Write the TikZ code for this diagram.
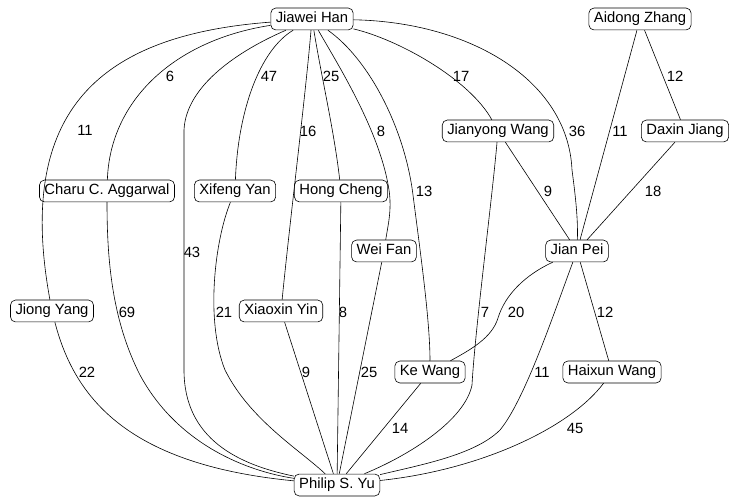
\documentclass[tikz,border=0pt]{standalone}
\usepackage{fontspec}
\setmainfont{Liberation Sans}
\usepackage{tikz}

\begin{document}
\begin{tikzpicture}[x=1pt, y=-1pt, line width=0.6pt,
    every node/.style={font=\fontsize{14.8}{17}\selectfont},
    author/.style={draw, rounded corners=5pt, inner xsep=5pt, inner ysep=4pt,
                   text height=10.8pt, text depth=3.1pt},
    wt/.style={inner sep=0pt}]
    \useasboundingbox (0,0) rectangle (729,497);

    \node[author] (han) at (312,19) {Jiawei Han};
    \node[author] (aidong) at (640,19) {Aidong Zhang};
    \node[author] (jianyong) at (498,131) {Jianyong Wang};
    \node[author] (daxin) at (685,131) {Daxin Jiang};
    \node[author] (charu) at (107,191) {Charu C. Aggarwal};
    \node[author] (xifeng) at (235,191) {Xifeng Yan};
    \node[author] (hong) at (341,191) {Hong Cheng};
    \node[author] (weifan) at (384,251) {Wei Fan};
    \node[author] (jianpei) at (577,251) {Jian Pei};
    \node[author] (jiong) at (52,311) {Jiong Yang};
    \node[author] (xiaoxin) at (281,311) {Xiaoxin Yin};
    \node[author] (kewang) at (430,372) {Ke Wang};
    \node[author] (haixun) at (612,372) {Haixun Wang};
    \node[author] (yu) at (337,485) {Philip S. Yu};

    \draw (han) .. controls (100,35) and (15,110) .. (jiong);
    \draw (han) .. controls (175,40) and (110,100) .. (charu);
    \draw (han) .. controls (240,50) and (186,85) .. (184,130) -- (184,370)
        .. controls (184,440) and (240,465) .. (yu);
    \draw (han) .. controls (260,50) and (238,110) .. (xifeng);
    \draw (han) .. controls (305,100) and (290,220) .. (xiaoxin);
    \draw (han) .. controls (322,80) and (334,130) .. (hong);
    \draw (han) .. controls (335,60) and (380,130) .. (389,190)
        .. controls (392,210) and (388,225) .. (weifan);
    \draw (han) .. controls (370,60) and (405,130) .. (413,195)
        .. controls (420,250) and (430,320) .. (kewang);
    \draw (han) .. controls (400,40) and (470,80) .. (jianyong);
    \draw (han) .. controls (470,22) and (568,80) .. (572,170)
        .. controls (576,200) and (578,220) .. (jianpei);

    \draw (aidong) -- (jianpei);
    \draw (aidong) -- (daxin);
    \draw (jianyong) -- (jianpei);
    \draw (daxin) -- (jianpei);
    \draw (jianpei) -- (haixun);
    \draw (jianyong) .. controls (492,200) and (475,330) .. (472,385)
        .. controls (465,420) and (410,455) .. (yu);
    \draw (jianpei) .. controls (525,275) and (505,295) .. (498,318)
        .. controls (492,338) and (470,350) .. (kewang);
    \draw (jianpei) .. controls (555,310) and (525,400) .. (500,430)
        .. controls (475,455) and (420,465) .. (yu);
    \draw (haixun) .. controls (570,428) and (480,470) .. (yu);

    \draw (kewang) -- (yu);
    \draw (weifan) -- (yu);
    \draw (hong) -- (yu);
    \draw (xiaoxin) -- (yu);
    \draw (xifeng) .. controls (215,240) and (205,320) .. (225,370)
        .. controls (250,420) and (300,450) .. (yu);
    \draw (charu) .. controls (107,260) and (112,320) .. (140,375)
        .. controls (175,440) and (240,470) .. (yu);
    \draw (jiong) .. controls (75,400) and (130,465) .. (yu);

    \node[wt] (w1) at (85,130) {11};
    \node[wt] (w2) at (170,76) {6};
    \node[wt] (w3) at (269,76) {47};
    \node[wt] (w4) at (331,76) {25};
    \node[wt] (w5) at (308,131) {16};
    \node[wt] (w6) at (381,131) {8};
    \node[wt] (w7) at (461,76) {17};
    \node[wt] (w8) at (577,131) {36};
    \node[wt] (w9) at (620,131) {11};
    \node[wt] (w10) at (675,76) {12};
    \node[wt] (w11) at (424,191) {13};
    \node[wt] (w12) at (548,191) {9};
    \node[wt] (w13) at (653,191) {18};
    \node[wt] (w14) at (192,252) {43};
    \node[wt] (w15) at (127,312) {69};
    \node[wt] (w16) at (224,312) {21};
    \node[wt] (w17) at (343,312) {8};
    \node[wt] (w18) at (485,312) {7};
    \node[wt] (w19) at (516,312) {20};
    \node[wt] (w20) at (605,312) {12};
    \node[wt] (w21) at (87,372) {22};
    \node[wt] (w22) at (306,372) {9};
    \node[wt] (w23) at (369,372) {25};
    \node[wt] (w24) at (542,372) {11};
    \node[wt] (w25) at (400,428) {14};
    \node[wt] (w26) at (575,428) {45};
\end{tikzpicture}
\end{document}
